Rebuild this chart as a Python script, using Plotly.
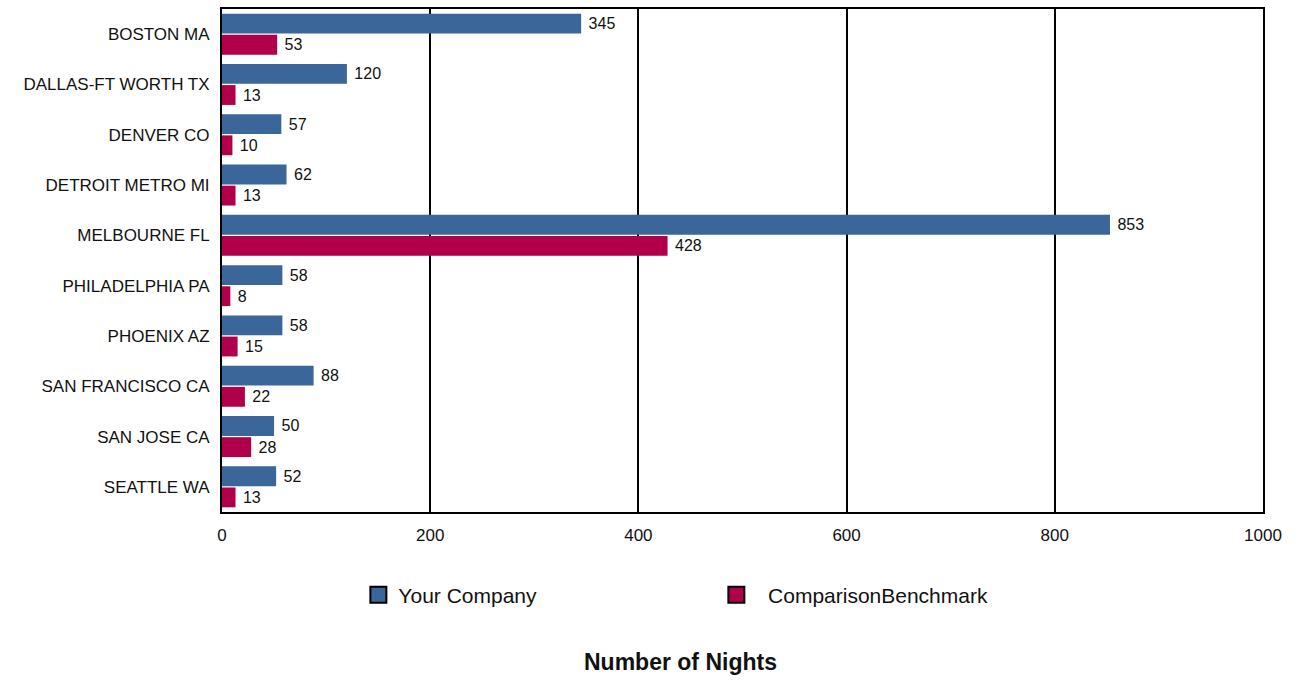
import plotly.graph_objects as go

cities = ["BOSTON MA", "DALLAS-FT WORTH TX", "DENVER CO", "DETROIT METRO MI", "MELBOURNE FL",
          "PHILADELPHIA PA", "PHOENIX AZ", "SAN FRANCISCO CA", "SAN JOSE CA", "SEATTLE WA"]
your_company = [345, 120, 57, 62, 853, 58, 58, 88, 50, 52]
benchmark = [53, 13, 10, 13, 428, 8, 15, 22, 28, 13]
x_ticks = [0, 200, 400, 600, 800, 1000]

BLUE = "#3A6699"
RED = "#B0004A"
FONT = "Arial, Liberation Sans, sans-serif"

fig = go.Figure()
fig.add_trace(go.Bar(y=cities, x=your_company, orientation="h", name="Your Company",
                     marker=dict(color=BLUE, line=dict(width=0)), text=your_company,
                     texttemplate=" %{text}",
                     textposition="outside", textfont=dict(size=16, color="#111"),
                     constraintext="none", cliponaxis=False, showlegend=False))
fig.add_trace(go.Bar(y=cities, x=benchmark, orientation="h", name="ComparisonBenchmark",
                     marker=dict(color=RED, line=dict(width=0)), text=benchmark,
                     texttemplate=" %{text}",
                     textposition="outside", textfont=dict(size=16, color="#111"),
                     constraintext="none", cliponaxis=False, showlegend=False))
# legend-only entries with black outlined swatches
fig.add_trace(go.Scatter(x=[None], y=[None], mode="markers", name="Your Company",
                         marker=dict(symbol="square", size=20, color=BLUE,
                                     line=dict(color="black", width=2))))
fig.add_trace(go.Scatter(x=[None], y=[None], mode="markers", name="  ComparisonBenchmark",
                         marker=dict(symbol="square", size=20, color=RED,
                                     line=dict(color="black", width=2))))

fig.update_layout(
    width=1297, height=684,
    margin=dict(l=222, r=34, t=7, b=172),
    paper_bgcolor="white", plot_bgcolor="white",
    barmode="group", bargap=0.16, bargroupgap=0.06,
    font=dict(family=FONT, size=17, color="#111"),
    xaxis=dict(range=[0, 1000], tickvals=x_ticks, showgrid=True, gridcolor="black", gridwidth=2,
               showline=True, linecolor="black", linewidth=2, mirror=True, zeroline=False,
               ticks="", tickfont=dict(size=17), ticklabelstandoff=7),
    yaxis=dict(autorange="reversed", showline=True, linecolor="black", linewidth=2, mirror=True,
               ticks="", tickfont=dict(size=17), ticklabelstandoff=7, showgrid=False),
    legend=dict(orientation="h", x=0.131, xanchor="left", y=0.130, yanchor="middle",
                xref="paper", yref="container", entrywidth=313, entrywidthmode="pixels",
                font=dict(size=21), itemwidth=30, bgcolor="rgba(0,0,0,0)"),
    annotations=[dict(text="<b>Number of Nights</b>", x=(680 - 222) / (1297 - 222 - 34),
                      xref="paper", xanchor="center", y=1 - (663 - 7) / (684 - 7 - 172),
                      yref="paper", yanchor="middle", showarrow=False, font=dict(size=23))],
)

fig.write_html("out.html", config={"displayModeBar": False},
               post_script="document.body.style.margin='0';")
